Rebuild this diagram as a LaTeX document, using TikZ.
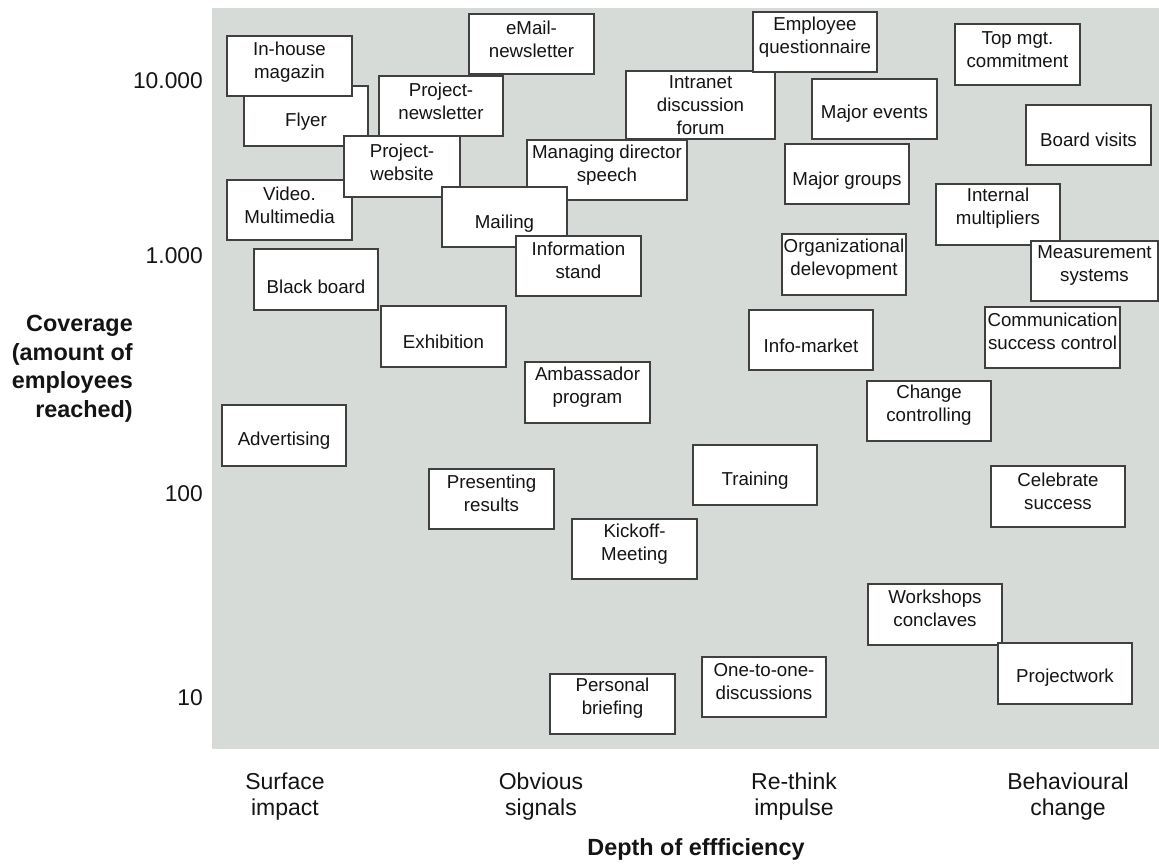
\documentclass[tikz,border=0pt]{standalone}
\usepackage{fontspec}
\setmainfont{Liberation Sans}[Ligatures=NoCommon]
\definecolor{bggray}{RGB}{215,219,216}
\definecolor{boxline}{RGB}{64,64,64}
\definecolor{txtcol}{RGB}{20,20,20}
\newcommand\mybox[7]{%
  \node[cbox, minimum width={(#4)-(#2)}, minimum height={(#5)-(#3)}] (#1) at ({((#2)+(#4))/2},{((#3)+(#5))/2}) {};
  \node[ctext] (#1-t) at ([yshift=#6pt]#1.center) {#7};
}
\tikzset{
  cbox/.style={draw=boxline, line width=1.1pt, fill=white, inner sep=0pt, rectangle},
  ctext/.style={align=center, font=\fontsize{18.7}{23}\selectfont, inner sep=0pt, text=txtcol},
  tick/.style={anchor=base east, inner sep=0pt, font=\fontsize{22.8}{27}\selectfont, text=txtcol},
  cat/.style={anchor=north, align=center, inner sep=0pt, font=\fontsize{23}{26.5}\selectfont, text=txtcol},
  axtitle/.style={inner sep=0pt, font=\fontsize{23.4}{28.5}\selectfont\bfseries, text=txtcol}
}
\begin{document}
\begin{tikzpicture}[x=1pt,y=-1pt]
\useasboundingbox (0,0) rectangle (1159,864);
\fill[bggray] (212,8) rectangle (1159,749);

% left column
\mybox{flyer}{244}{86}{368}{146}{-6}{Flyer}
\mybox{inhouse}{227}{36}{352}{96}{4}{In-house\\magazin}
\mybox{email}{469}{14}{594}{74}{4.5}{eMail-\\newsletter}
\mybox{pnews}{379}{76}{503}{136}{5}{Project-\\newsletter}
\mybox{video}{227}{180}{352}{240}{5}{Video.\\Multimedia}
\mybox{pweb}{344}{136}{460}{197}{4.5}{Project-\\website}
\mybox{intranet}{626}{71}{775}{139}{0}{Intranet\\discussion\\forum}
\mybox{managing}{527}{140}{687}{200}{4.5}{Managing director\\speech}
\mybox{mailing}{442}{187}{567}{247}{-7}{Mailing}
\mybox{infostand}{516}{236}{641}{296}{6}{Information\\stand}
\mybox{blackboard}{254}{249}{378}{310}{-7}{Black board}
\mybox{exhibition}{381}{306}{506}{367}{-5}{Exhibition}
\mybox{ambassador}{525}{362}{650}{423}{5}{Ambassador\\program}
\mybox{advertising}{222}{405}{346}{466}{-5}{Advertising}
\mybox{presenting}{429}{469}{554}{529}{6}{Presenting\\results}
\mybox{kickoff}{572}{519}{697}{579}{5}{Kickoff-\\Meeting}
\mybox{personal}{550}{674}{675}{734}{5.5}{Personal\\briefing}

% right part
\mybox{employee}{753}{12}{877}{72}{5}{Employee\\questionnaire}
\mybox{topmgt}{955}{24}{1080}{85}{4.5}{Top mgt.\\commitment}
\mybox{majorevents}{812}{79}{937}{139}{-5}{Major events}
\mybox{board}{1026}{105}{1151}{165}{-5}{Board visits}
\mybox{majorgroups}{785}{144}{909}{204}{-7}{Major groups}
\mybox{internal}{936}{184}{1060}{245}{6}{Internal\\multipliers}
\mybox{measurement}{1031}{241}{1158}{301}{5}{Measurement\\systems}
\mybox{orgdev}{782}{234}{906}{295}{5.5}{Organizational\\delevopment}
\mybox{infomarket}{749}{310}{873}{370}{-6}{Info-market}
\mybox{commsuccess}{985}{307}{1120}{368}{6}{Communication\\success control}
\mybox{changectrl}{867}{381}{991}{441}{5.5}{Change\\controlling}
\mybox{training}{693}{445}{817}{505}{-6}{Training}
\mybox{celebrate}{991}{466}{1125}{527}{5.5}{Celebrate\\success}
\mybox{workshops}{868}{584}{1002}{645}{6}{Workshops\\conclaves}
\mybox{projectwork}{998}{643}{1132}{704}{-4.5}{Projectwork}
\mybox{onetoone}{702}{657}{826}{717}{5}{One-to-one-\\discussions}

% y axis ticks
\node[tick] (t10000) at (203,89) {10.000};
\node[tick] (t1000) at (203,263) {1.000};
\node[tick] (t100) at (203,501) {100};
\node[tick] (t10) at (203,705) {10};

% y axis title
\node[axtitle, anchor=north east, align=right] (ytitle) at (133,315) {Coverage\\(amount of\\employees\\reached)};

% x categories
\node[cat] (c1) at (285,772.5) {Surface\\impact};
\node[cat] (c2) at (541,772.5) {Obvious\\signals};
\node[cat] (c3) at (794,772.5) {Re-think\\impulse};
\node[cat] (c4) at (1068,772.5) {Behavioural\\change};

% x axis title
\node[axtitle, anchor=base] (xtitle) at (696,855) {Depth of effficiency};
\end{tikzpicture}
\end{document}
